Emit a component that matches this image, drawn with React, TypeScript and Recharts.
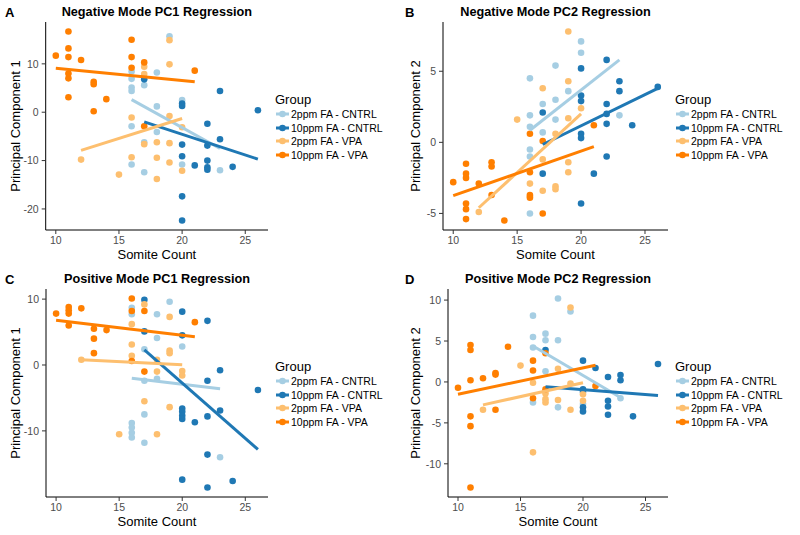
import React from "react";
import { Scatter, ScatterChart, XAxis, YAxis } from "recharts";

type Pt = [number, number];
type Fit = [number, number, number, number];

const groups = ["2ppm FA - CNTRL", "10ppm FA - CNTRL", "2ppm FA - VPA", "10ppm FA - VPA"];
const colors = ["#A6CEE3", "#1F78B4", "#FDBF6F", "#FF7F00"];
const xTicks = [10, 15, 20, 25];

// A: Negative Mode PC1
const negPC1Cntrl2: Pt[] = [[16, 8.4], [16, 6.9], [16, 5.1], [16, 4.4], [16, -2.9], [16, -10.8], [17, 5.6], [17, -6.2], [17, -12.4], [18, 8.2], [18, 1.2], [18, -4.1], [19, 15.7], [20, 2.5], [20, -10.8], [23, -12.0]];
const negPC1Cntrl10: Pt[] = [[17, 6.8], [20, 1.8], [20, 1.3], [20, -6.7], [20, -9.1], [20, -17.4], [20, -22.4], [21, -11.0], [22, -2.4], [22, -6.9], [22, -10.0], [22, -11.4], [22, -11.9], [23, 4.4], [23, -5.6], [24, -11.3], [26, 0.4]];
const negPC1Vpa2: Pt[] = [[12, -9.8], [15, -12.9], [16, -1.1], [16, -9.3], [17, 9.4], [17, 7.9], [17, -6.6], [18, -6.2], [18, -9.4], [18, -13.8], [19, 14.9], [19, 9.9], [19, -0.8], [19, -6.4], [19, -10.4], [20, -3.1], [20, -12.1]];
const negPC1Vpa10: Pt[] = [[10, 11.7], [11, 16.7], [11, 13.2], [11, 11.4], [11, 8.0], [11, 7.0], [11, 3.1], [12, 10.8], [13, 6.3], [13, 5.8], [13, 0.2], [14, 2.7], [16, 15.0], [16, 11.4], [16, 9.2], [17, 10.3], [17, -2.9], [21, 8.6]];
const negPC1Fits: Fit[] = [[16, 2.6, 23, -7.5], [17, -2.0, 26, -9.7], [12, -7.9, 20, -1.3], [10, 9.1, 21, 6.3]];

// B: Negative Mode PC2
const negPC2Cntrl2: Pt[] = [[16, 4.5], [16, 1.9], [16, 1.1], [16, -0.5], [16, -1.0], [16, -5.0], [17, 2.7], [17, 0.7], [18, 5.4], [18, 3.0], [18, 1.6], [19, 3.6], [20, 7.1], [20, 6.3], [23, 1.9]];
const negPC2Cntrl10: Pt[] = [[17, 2.1], [17, -2.2], [20, 5.2], [20, 3.3], [20, 2.9], [20, 0.6], [20, 0.3], [20, -4.3], [21, -2.2], [22, 5.8], [22, 2.7], [22, 2.0], [22, 1.3], [22, -1.0], [23, 4.3], [23, 3.6], [24, 1.2], [26, 3.9]];
const negPC2Vpa2: Pt[] = [[12, -4.9], [15, 1.6], [16, -2.9], [16, -3.8], [17, 3.8], [17, -1.2], [17, -3.4], [18, 0.6], [18, -3.1], [18, -3.3], [19, 7.8], [19, 4.3], [19, 1.7], [19, -1.4], [19, -2.1], [20, 2.4]];
const negPC2Vpa10: Pt[] = [[10, -2.8], [11, -1.5], [11, -2.2], [11, -2.5], [11, -4.3], [11, -4.7], [11, -5.4], [12, -2.9], [13, -1.4], [13, -1.7], [13, -3.7], [14, -5.5], [16, 0.6], [16, -2.1], [16, -3.7], [16, -3.9], [17, 0.1], [17, -5.0], [21, 1.2]];
const negPC2Fits: Fit[] = [[16, 0.85, 23, 5.8], [17, -0.15, 26, 3.8], [12, -4.6, 20, 2.0], [10, -3.75, 21, -0.3]];

// C: Positive Mode PC1
const posPC1Cntrl2: Pt[] = [[16, 8.7], [16, 7.7], [16, -8.8], [16, -9.5], [16, -10.3], [16, -11.0], [17, 2.4], [17, -2.4], [17, -7.5], [17, -11.8], [18, 7.7], [18, 4.1], [18, -2.1], [19, 9.6], [20, 2.8], [23, -14.0]];
const posPC1Cntrl10: Pt[] = [[17, 9.9], [17, 5.1], [20, 8.1], [20, 4.5], [20, -6.6], [20, -7.1], [20, -7.7], [20, -8.2], [20, -17.4], [21, -8.7], [22, 6.7], [22, -2.4], [22, -7.8], [22, -13.6], [22, -18.6], [23, -0.8], [23, -6.9], [24, -17.6], [26, -3.8]];
const posPC1Vpa2: Pt[] = [[12, 0.8], [15, -10.5], [16, 6.2], [16, 3.1], [16, 1.4], [17, 9.2], [17, -5.5], [18, 0.8], [18, -1.0], [18, -10.5], [19, 7.3], [19, 2.2], [19, 1.8], [19, -6.4], [20, -0.9], [20, -1.6]];
const posPC1Vpa10: Pt[] = [[10, 7.8], [11, 8.8], [11, 8.3], [11, 7.8], [11, 6.0], [12, 8.6], [13, 5.5], [13, 4.0], [13, 1.8], [14, 5.3], [16, 10.1], [16, 8.2], [16, 0.6], [17, 8.2], [17, -1.0], [21, 6.5]];
const posPC1Fits: Fit[] = [[16, -2.0, 23, -3.6], [17, 2.3, 26, -12.8], [12, 0.8, 20, 0.05], [10, 6.8, 21, 4.3]];

// D: Positive Mode PC2
const posPC2Cntrl2: Pt[] = [[16, 8.1], [16, 5.5], [16, 4.2], [16, -2.5], [17, 5.9], [17, 5.1], [17, 1.3], [18, 10.2], [18, 5.1], [18, -3.1], [19, 8.6], [20, -2.7], [23, -2.0]];
const posPC2Cntrl10: Pt[] = [[17, 3.9], [20, 2.6], [20, -0.9], [20, -1.2], [20, -3.1], [20, -3.6], [21, 1.7], [22, 0.6], [22, -2.3], [22, -3.0], [22, -4.0], [23, 0.85], [23, 0.2], [24, -4.2], [26, 2.2]];
const posPC2Vpa2: Pt[] = [[12, -3.4], [15, 2.0], [16, -0.1], [16, -8.6], [17, -1.4], [17, -2.1], [17, -2.5], [18, 1.6], [18, -2.2], [19, 9.1], [19, -0.2], [19, -3.4], [20, -1.5], [20, -2.3]];
const posPC2Vpa10: Pt[] = [[10, -0.7], [11, 4.5], [11, 3.9], [11, 0.2], [11, -4.2], [11, -5.4], [11, -12.9], [12, 0.45], [13, 1.1], [13, 0.9], [13, -3.4], [14, 4.3], [16, 2.6], [16, 1.4], [16, -2.0], [17, 3.5], [17, -0.9], [21, -0.5]];
const posPC2Fits: Fit[] = [[16, 4.4, 23, -1.9], [17, -0.6, 26, -1.65], [12, -2.8, 20, -0.1], [10, -1.5, 21, 2.05]];

const FONT = '"Liberation Sans", Arial, sans-serif';
const TOP = 22;
const BOTTOM = 230;
const RIGHT = 268;

const toRows = (pts: Pt[]) => pts.map(([x, y]) => ({ x, y }));

function Txt({ x, y, size, bold, start, rotate, color = "#000", children }: any) {
  const tx = start ? "0" : "-50%";
  return (
    <div
      style={{
        position: "absolute",
        left: x,
        top: y,
        transform: `translate(${tx},-50%)${rotate ? " rotate(-90deg)" : ""}`,
        fontSize: size,
        fontWeight: bold ? 700 : 400,
        whiteSpace: "nowrap",
        lineHeight: 1,
        color
      }}
    >
      {children}
    </div>
  );
}

function Dot(props: any) {
  if (props.cx == null) return <g />;
  return <circle cx={props.cx} cy={props.cy} r={3.3} fill={props.fill} />;
}

function GroupLegend() {
  const rows = [114, 127.5, 141, 154.5];
  return (
    <>
      <Txt x={275} y={99} size={13} start>Group</Txt>
      {groups.map((g, i) => (
        <React.Fragment key={g}>
          <svg style={{ position: "absolute", left: 276, top: rows[i] - 5 }} width={13} height={10}>
            <line x1={0} x2={13} y1={5} y2={5} stroke={colors[i]} strokeWidth={3} />
            <circle cx={6.5} cy={5} r={3.3} fill={colors[i]} />
          </svg>
          <Txt x={291} y={rows[i]} size={10.5} start>{g}</Txt>
        </React.Fragment>
      ))}
    </>
  );
}

function Panel({ ox, oy, left, letter, title, yLabel, sets, fits, yTicks }: {
  ox: number; oy: number; left: number; letter: string; title: string; yLabel: string;
  sets: Pt[][]; fits: Fit[]; yTicks: number[];
}) {
  const ys = sets.flat().map((p) => p[1]);
  const lo = Math.min(...ys);
  const hi = Math.max(...ys);
  const pad = (hi - lo) * 0.05;
  const mid = (left + RIGHT) / 2;
  const tick = { fill: "#4D4D4D", fontSize: 10.5, fontFamily: FONT };
  return (
    <div style={{ position: "absolute", left: ox, top: oy, width: 400, height: 267 }}>
      <div style={{ position: "absolute", left: 0, top: 0 }}>
        <ScatterChart width={RIGHT + 2} height={BOTTOM + 30} margin={{ top: TOP, right: 2, bottom: 0, left: 0 }}>
          <XAxis
            type="number"
            dataKey="x"
            domain={[9.2, 26.8]}
            ticks={xTicks}
            height={30}
            tick={tick}
            tickSize={4}
            tickMargin={3}
            axisLine={{ stroke: "#000", strokeWidth: 1 }}
            tickLine={{ stroke: "#333" }}
          />
          <YAxis
            type="number"
            dataKey="y"
            domain={[lo - pad, hi + pad]}
            ticks={yTicks}
            width={left}
            tick={tick}
            tickSize={4}
            tickMargin={3}
            axisLine={{ stroke: "#000", strokeWidth: 1 }}
            tickLine={{ stroke: "#333" }}
          />
          {sets.map((s, i) => (
            <Scatter key={"p" + i} data={toRows(s)} fill={colors[i]} shape={<Dot />} isAnimationActive={false} />
          ))}
          {fits.map((f, i) => (
            <Scatter
              key={"f" + i}
              data={[{ x: f[0], y: f[1] }, { x: f[2], y: f[3] }]}
              fill={colors[i]}
              line={{ stroke: colors[i], strokeWidth: 3 }}
              shape={() => <g />}
              isAnimationActive={false}
            />
          ))}
        </ScatterChart>
      </div>
      <Txt x={5} y={12} size={13} bold start>{letter}</Txt>
      <Txt x={mid} y={12} size={12.7} bold>{title}</Txt>
      <Txt x={mid} y={254} size={13}>Somite Count</Txt>
      <Txt x={15} y={(TOP + BOTTOM) / 2} size={13} rotate>{yLabel}</Txt>
      <GroupLegend />
    </div>
  );
}

export default function App() {
  return (
    <div style={{ position: "absolute", left: 0, top: 0, width: 800, height: 535, background: "#fff", fontFamily: FONT }}>
      <Panel ox={0} oy={0} left={45.7} letter="A" title="Negative Mode PC1 Regression" yLabel="Principal Component 1"
        sets={[negPC1Cntrl2, negPC1Cntrl10, negPC1Vpa2, negPC1Vpa10]} fits={negPC1Fits} yTicks={[-20, -10, 0, 10]} />
      <Panel ox={400} oy={0} left={43} letter="B" title="Negative Mode PC2 Regression" yLabel="Principal Component 2"
        sets={[negPC2Cntrl2, negPC2Cntrl10, negPC2Vpa2, negPC2Vpa10]} fits={negPC2Fits} yTicks={[-5, 0, 5]} />
      <Panel ox={0} oy={267} left={46} letter="C" title="Positive Mode PC1 Regression" yLabel="Principal Component 1"
        sets={[posPC1Cntrl2, posPC1Cntrl10, posPC1Vpa2, posPC1Vpa10]} fits={posPC1Fits} yTicks={[-10, 0, 10]} />
      <Panel ox={400} oy={267} left={48} letter="D" title="Positive Mode PC2 Regression" yLabel="Principal Component 2"
        sets={[posPC2Cntrl2, posPC2Cntrl10, posPC2Vpa2, posPC2Vpa10]} fits={posPC2Fits} yTicks={[-10, -5, 0, 5, 10]} />
    </div>
  );
}
